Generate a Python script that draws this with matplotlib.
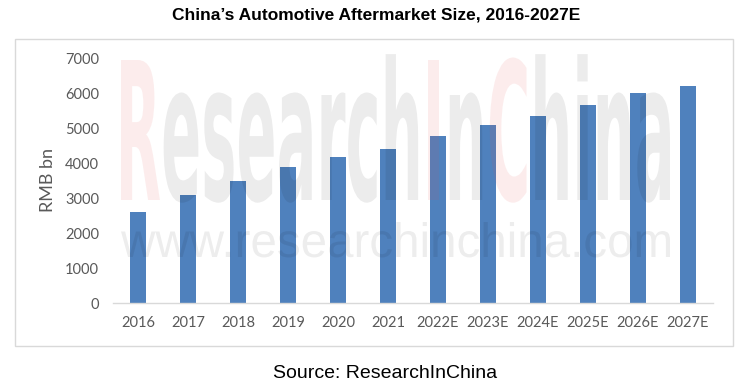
import numpy as np
import matplotlib
matplotlib.use('Agg')
import matplotlib.pyplot as plt
from matplotlib.textpath import TextPath, text_to_path
from matplotlib.font_manager import FontProperties
from matplotlib.patches import PathPatch, Rectangle
from matplotlib.transforms import Affine2D

years = ['2016', '2017', '2018', '2019', '2020', '2021',
         '2022E', '2023E', '2024E', '2025E', '2026E', '2027E']
values = [2610, 3100, 3500, 3900, 4180, 4410, 4780, 5090, 5350, 5670, 6010, 6210]

W, H = 752, 381
fig = plt.figure(figsize=(W / 100, H / 100), dpi=100)
fig.patch.set_facecolor('white')

ax = fig.add_axes([113 / W, 1 - 303.3 / H, 600 / W, (303.3 - 58.5) / H])
x = np.arange(len(years))
ax.bar(x, values, width=0.32, color='#4F81BD', zorder=2)
ax.set_xlim(-0.5, len(years) - 0.5)
ax.set_ylim(0, 7000)
ax.set_yticks(range(0, 7001, 1000))
ax.set_xticks(x, years)
for s in ['top', 'right', 'left']:
    ax.spines[s].set_visible(False)
ax.spines['bottom'].set_color('#D9D9D9')
ax.spines['bottom'].set_linewidth(1)
ax.tick_params(length=0, labelsize=10.5, colors='#595959')
ax.tick_params(axis='x', pad=9)
ax.tick_params(axis='y', pad=10)
for lab in ax.get_xticklabels() + ax.get_yticklabels():
    lab.set_family('Lato')

fig.text(48 / W, 1 - 180.5 / H, 'RMB bn', rotation=90, ha='center', va='center',
         fontsize=13, color='#595959', family='Lato')

fig.text(376 / W, 1 - 14.5 / H, 'China\u2019s Automotive Aftermarket Size, 2016-2027E',
         ha='center', va='center', fontsize=12.5, fontweight='bold',
         family='Liberation Sans', color='black')
fig.text(385 / W, 1 - 373 / H, 'Source: ResearchInChina', ha='center', va='center',
         fontsize=14, family='Liberation Sans', color='black')

# outer frame
fig.add_artist(Rectangle((15.3 / W, 1 - 346 / H), (733 - 15.3) / W, (346 - 39.3) / H,
                         transform=fig.transFigure, fill=False,
                         edgecolor='#D9D9D9', linewidth=1))


def watermark(segments, x0, x1, base, top, ref, prop):
    # segments: list of (text, color, alpha); placed in pixel coords (y from top)
    full = ''.join(s[0] for s in segments)
    whole = TextPath((0, 0), full, size=100, prop=prop)
    ext = whole.get_extents()
    refh = TextPath((0, 0), ref, size=100, prop=prop).get_extents().ymax
    sx = (x1 - x0) / (ext.xmax - ext.xmin)
    sy = (base - top) / refh
    off = 0.0
    for text, color, alpha in segments:
        p = TextPath((off, 0), text, size=100, prop=prop)
        tr = (Affine2D().translate(-ext.xmin, 0).scale(sx, sy)
              .translate(x0, H - base).scale(1 / W, 1 / H) + fig.transFigure)
        fig.add_artist(PathPatch(p, transform=tr, facecolor=color,
                                 edgecolor='none', alpha=alpha, zorder=5))
        w, _, _ = text_to_path.get_text_width_height_descent(text, prop, ismath=False)
        off += w * 100 / prop.get_size_in_points()


red = (0.9, 0.3, 0.3)
grey = (0.0, 0.0, 0.0)
big = FontProperties(family='DejaVu Sans', weight='bold')
watermark([('R', red, 0.1), ('esearch', grey, 0.075), ('I', red, 0.1),
           ('n', grey, 0.075), ('C', red, 0.1), ('hina', grey, 0.075)],
          121, 670, 200, 60, 'R', big)
small = FontProperties(family='Liberation Sans')
watermark([('www.researchinchina.com', grey, 0.07)], 121, 670, 257, 222, 'h', small)

fig.savefig('out.png', dpi=100, facecolor='white')
